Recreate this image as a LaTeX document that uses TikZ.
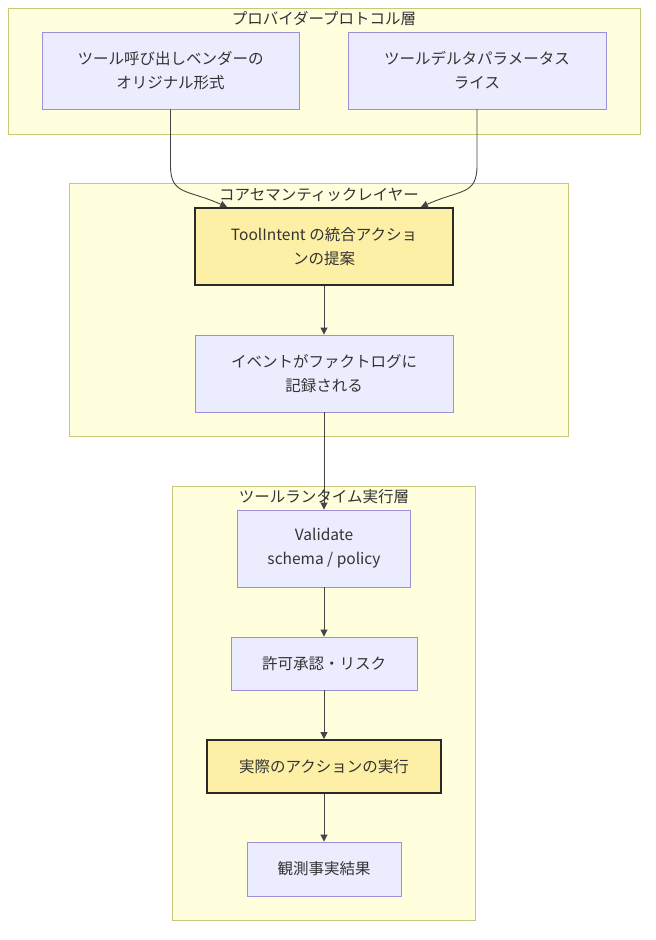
\documentclass[tikz,border=0pt]{standalone}
\usepackage{fontspec}
\setmainfont{Noto Sans CJK JP}
\usetikzlibrary{arrows.meta,calc}
\definecolor{clfill}{HTML}{FFFFDE}
\definecolor{clline}{HTML}{C8C87A}
\definecolor{ndfill}{HTML}{ECECFF}
\definecolor{ndline}{HTML}{9F8FD8}
\definecolor{hifill}{HTML}{FDF0A6}
\definecolor{hiline}{HTML}{2A2A2A}
\definecolor{txt}{HTML}{333333}
\definecolor{edge}{HTML}{444444}
\tikzset{
  cluster/.style={draw=clline, fill=clfill, line width=0.9pt},
  cltitle/.style={text=txt, font=\fontsize{15.5}{20}\selectfont, inner sep=0pt},
  box/.style={draw=ndline, fill=ndfill, line width=0.9pt, text=txt, align=center,
    font=\fontsize{15.5}{24}\selectfont, inner sep=0pt},
  hibox/.style={box, draw=hiline, fill=hifill, line width=1.8pt},
  flow/.style={draw=edge, line width=0.9pt, -{Triangle[width=7pt,length=7pt]}},
}
\begin{document}
\begin{tikzpicture}[x=1pt,y=-1pt]
\useasboundingbox (0,0) rectangle (656,940);
\fill[white] (0,0) rectangle (656,940);
% clusters
\draw[cluster] (8,8) rectangle (640,134);
\node[cltitle] (t1) at (324,19) {プロバイダープロトコル層};
\draw[cluster] (69,183) rectangle (568,436);
\node[cltitle] (t2) at (319,195) {コアセマンティックレイヤー};
\draw[cluster] (172,486) rectangle (475,920);
\node[cltitle] (t3) at (324,497) {ツールランタイム実行層};
% nodes
\node[box, minimum width=257pt, minimum height=77pt] (A) at (170.5,70.5) {ツール呼び出しベンダーの\\オリジナル形式};
\node[box, minimum width=258pt, minimum height=77pt] (B) at (477,70.5) {ツールデルタパラメータス\\ライス};
\node[hibox, minimum width=258pt, minimum height=77pt] (C) at (324,246.5) {ToolIntent の統合アクショ\\ンの提案};
\node[box, minimum width=258pt, minimum height=77pt] (D) at (324,373.5) {イベントがファクトログに\\記録される};
\node[box, minimum width=173pt, minimum height=77pt] (E) at (324,548.5) {Validate\\schema / policy};
\node[box, minimum width=186pt, minimum height=53pt] (F) at (324,663.5) {許可承認・リスク};
\node[hibox, minimum width=234pt, minimum height=53pt] (G) at (324,766.5) {実際のアクションの実行};
\node[box, minimum width=154pt, minimum height=54pt] (H) at (324,869) {観測事実結果};
% connectors
\coordinate (ca) at ($(C.north west)+(33,0)$);
\coordinate (cb) at ($(C.north east)+(-33,0)$);
\draw[flow] (A.south) -- ++(0,56) .. controls +(0,30) and +(-40,-18) .. (ca);
\draw[flow] (B.south) -- ++(0,56) .. controls +(0,30) and +(40,-18) .. (cb);
\draw[flow] (C) -- (D);
\draw[flow] (D) -- (E);
\draw[flow] (E) -- (F);
\draw[flow] (F) -- (G);
\draw[flow] (G) -- (H);
\end{tikzpicture}
\end{document}
